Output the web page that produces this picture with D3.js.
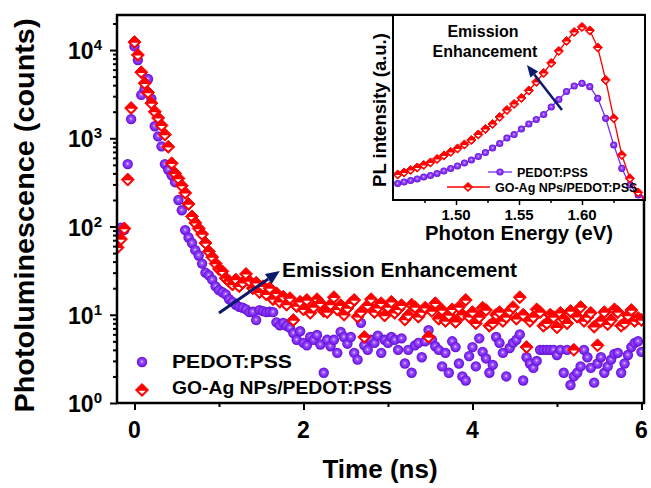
<!DOCTYPE html>
<html><head><meta charset="utf-8">
<script src="https://cdn.jsdelivr.net/npm/d3@7"></script>
<style>
body{margin:0;background:#fff}
svg{display:block}
text{font-family:"Liberation Sans",Arial,sans-serif;font-weight:bold;fill:#000}
</style>
</head><body>
<svg id="c" width="651" height="488"></svg>
<script>
// ---------------- DATA ----------------
const seriesNames = ["PEDOT:PSS", "GO-Ag NPs/PEDOT:PSS"];
const timeStart = -0.2;   // ns, first bin
const timeStep = 0.04;    // ns, bin width
const pedotCounts = [
 88,97,92,510,1650,11000,7700,3100,3600,4700,
 2800,1370,1050,810,510,440,380,318,200,153,
 91,75,65,54,47,38,30,28,25,21,
 19,18,17,15,14,13,12.3,12,11.5,10.7,
 10.8,8.7,11.3,11,10.7,10.8,10.7,8.2,7.6,8.1,
 7.5,7.1,6.2,5.2,6.5,4.8,4.5,5.6,5.2,5.9,
 4.6,2.2,5.2,4.4,5.2,3.7,6.4,5.6,4.7,5.6,
 3.7,3.1,8.1,4.5,4.0,5.2,4.8,5.8,3.7,5.2,
 4.8,5.6,5.2,4.0,5.4,2.8,4.0,2.2,4.5,4.8,
 3.3,5.0,6.7,5.2,4.4,4.0,2.6,3.7,2.2,5.0,
 4.3,2.8,2.0,1.8,3.4,4.3,2.6,5.4,3.8,3.2,
 2.2,2.7,5.6,4.8,3.7,2.0,4.2,4.8,5.2,6.0,
 1.8,3.3,2.8,2.5,3.0,4.0,4.0,4.0,4.0,4.0,
 3.5,4.0,2.2,4.0,1.6,2.0,2.2,2.6,4.0,3.3,
 2.5,1.7,2.8,3.3,2.2,2.6,3.1,3.6,3.7,2.2,
 2.8,3.5,4.3,4.8,5.0,3.8
];
const goAgCounts = [
 58,72,95,340,2200,12300,8800,5600,4200,3300,
 2500,2000,1700,1400,1100,800,520,400,350,290,
 240,180,130,110,95,82,65,52,45,38,
 33,31,26,24,22,25,21,23,29,24,
 20,23,18,21,17,20,15,17.5,14,16,
 13,15.4,8.7,12.5,14,11.5,14.7,10.5,12.2,15,
 13.5,11,10.7,13,15.8,11.5,12.8,10,11.9,13.5,
 14.7,9.5,10.7,5.6,12.8,15,10.7,12,13.5,9.8,
 12.2,14,10.5,11.5,12.8,8.8,9.9,13,12.2,9.5,
 10.7,12,5.6,11,13.5,9,11.3,8.5,9.9,11.5,
 8.3,12.2,10,14.7,9.5,10.7,8,9.4,12,11.3,
 7.5,8.0,10,10.7,8.5,9.4,11,12.2,9,15.8,
 10,4.3,8.5,9.4,11.5,10.7,7.5,8.0,10,9.4,
 7.2,10.5,9,8.0,11,4.0,9.5,12.2,8.5,9.4,
 10.5,7.3,4.5,8.5,10.7,7.8,8.7,11.5,10.7,7.5,
 8.0,9.8,11.3,8.5,9.2,8.7
];
const xTickLabels = [0, 2, 4, 6];
const xMinorTicks = [1, 3, 5];
const yTickExponents = [0, 1, 2, 3, 4];

// inset: PL spectra (photon energy in eV, intensity in a.u.)
const insetEnergy = [
 1.4537,1.4588,1.4640,1.4692,1.4744,1.4797,1.4850,1.4904,1.4958,1.5012,
 1.5067,1.5122,1.5177,1.5233,1.5290,1.5347,1.5404,1.5461,1.5519,1.5578,
 1.5637,1.5696,1.5756,1.5816,1.5877,1.5938,1.6000,1.6062,1.6125,1.6188,
 1.6252,1.6316,1.6380,1.6446,1.6511
];
const insetPedot = [
 16.5,18,19.5,21,23,24.5,26.5,29,31.5,34,
 37,40,43.5,47.5,52,56.5,62,65.5,71,76,
 80.5,85.5,93,100.5,108.5,114,116.7,113.3,101.7,81.7,
 55,31.7,15,5,0.5
];
const insetGoAg = [
 25.5,27.5,30,32.5,35,37.5,41,44.5,48,51.5,
 55.5,60,65.5,71,76,83,90,96,102,109.5,
 118,127,137,149,159,168,173,169.5,152.5,120,
 81.7,45,21.7,7.5,1
];
const insetTickLabels = [1.50, 1.55, 1.60];
const insetMinorTicks = [1.475, 1.525, 1.575, 1.625];

// ---------------- CHART ----------------
const svg = d3.select("#c");
const M = {l:117, r:644, t:15, b:403};
const x = d3.scaleLinear().domain([-0.207, 6.03]).range([M.l, M.r]);
const y = d3.scaleLog().domain([1, 24950]).range([M.b, M.t]);

const defs = svg.append("defs");
const grad = defs.append("radialGradient").attr("id","sph")
  .attr("cx","50%").attr("cy","50%").attr("r","50%").attr("fx","48%").attr("fy","45%");
grad.append("stop").attr("offset","0%").attr("stop-color","#e6d4ff");
grad.append("stop").attr("offset","28%").attr("stop-color","#9a55ff");
grad.append("stop").attr("offset","70%").attr("stop-color","#7f26f0");
grad.append("stop").attr("offset","100%").attr("stop-color","#5e10d0");
defs.append("clipPath").attr("id","mainclip").append("rect")
  .attr("x",M.l).attr("y",M.t).attr("width",M.r-M.l).attr("height",M.b-M.t);

function diamond(g, s){
  g.append("path").attr("d",`M0,${-s}L${s},0L0,${s}L${-s},0Z`)
    .attr("fill","#ff0000").attr("stroke","#ff0000").attr("stroke-width",1);
  g.append("path").attr("d",`M${-0.55*s},${0.1*s}L${0.55*s},${0.1*s}L0,${0.62*s}Z`)
    .attr("fill","#fff");
}

const times = pedotCounts.map((_, i) => +(timeStart + i*timeStep).toFixed(3));
const dataP = times.map((t,i) => ({t, v: pedotCounts[i]}));
const dataG = times.map((t,i) => ({t, v: goAgCounts[i]}));

const plot = svg.append("g").attr("clip-path","url(#mainclip)");
plot.selectAll("circle.p").data(dataP).join("circle").attr("class","p")
  .attr("cx", d=>x(d.t)).attr("cy", d=>y(d.v)).attr("r",5.2).attr("fill","url(#sph)");
plot.selectAll("g.g").data(dataG).join("g").attr("class","g")
  .attr("transform", d=>`translate(${x(d.t)},${y(d.v)})`)
  .each(function(){ diamond(d3.select(this), 6.5); });

// axes
const gxMaj = svg.append("g").attr("transform",`translate(0,${M.b})`)
  .call(d3.axisBottom(x).tickValues(xTickLabels).tickSize(7).tickFormat(""));
const gxMin = svg.append("g").attr("transform",`translate(0,${M.b})`)
  .call(d3.axisBottom(x).tickValues(xMinorTicks).tickSize(4).tickFormat(""));
const yMinor = [];
for (let k=0;k<5;k++) for (let m=2;m<=9;m++){ const v=m*Math.pow(10,k); if (v<24950) yMinor.push(v); }
const gyMaj = svg.append("g").attr("transform",`translate(${M.l},0)`)
  .call(d3.axisLeft(y).tickValues(yTickExponents.map(e=>Math.pow(10,e))).tickSize(7).tickFormat(""));
const gyMin = svg.append("g").attr("transform",`translate(${M.l},0)`)
  .call(d3.axisLeft(y).tickValues(yMinor).tickSize(4).tickFormat(""));
[gxMaj,gxMin,gyMaj,gyMin].forEach(g=>{
  g.select(".domain").remove();
  g.selectAll(".tick line").attr("stroke","#000").attr("stroke-width",2);
});

xTickLabels.forEach(v=>{
  svg.append("text").attr("x",x(v)).attr("y",438).attr("text-anchor","middle")
    .attr("font-size",23).text(v);
});
yTickExponents.forEach(e=>{
  const t = svg.append("text").attr("x",102).attr("y",y(Math.pow(10,e))+9)
    .attr("text-anchor","end").attr("font-size",23);
  t.append("tspan").text("10");
  t.append("tspan").attr("font-size",15).attr("dy",-9).text(e);
});

svg.append("rect").attr("x",M.l).attr("y",M.t).attr("width",M.r-M.l).attr("height",M.b-M.t)
  .attr("fill","none").attr("stroke","#000").attr("stroke-width",2.5);

// titles
svg.append("text").attr("x",380).attr("y",478).attr("text-anchor","middle")
  .attr("font-size",26).text("Time (ns)");
svg.append("text").attr("transform","translate(33.5,215.5) rotate(-90)")
  .attr("text-anchor","middle").attr("font-size",27.5)
  .attr("textLength",394).attr("lengthAdjust","spacingAndGlyphs")
  .text("Photoluminescence (counts)");

// legend
svg.append("circle").attr("cx",142).attr("cy",362).attr("r",5.2).attr("fill","url(#sph)");
diamond(svg.append("g").attr("transform","translate(142,390)"), 6.5);
svg.append("text").attr("x",172).attr("y",368).attr("font-size",19)
  .attr("textLength",120).attr("lengthAdjust","spacingAndGlyphs").text(seriesNames[0]);
svg.append("text").attr("x",172).attr("y",394).attr("font-size",19)
  .attr("textLength",220).attr("lengthAdjust","spacingAndGlyphs").text(seriesNames[1]);

// arrows
function arrow(x1,y1,x2,y2,len,hw,w){
  const dx=x2-x1, dy=y2-y1, L=Math.hypot(dx,dy), ux=dx/L, uy=dy/L;
  const bx=x2-ux*len, by=y2-uy*len;
  svg.append("line").attr("x1",x1).attr("y1",y1).attr("x2",bx).attr("y2",by)
    .attr("stroke","#0b1a6b").attr("stroke-width",w);
  svg.append("path").attr("d",`M${x2},${y2}L${bx-uy*hw},${by+ux*hw}L${bx+uy*hw},${by-ux*hw}Z`)
    .attr("fill","#0b1a6b");
}
arrow(x(1.0), y(10.5), x(1.72), y(31.3), 14, 6, 3);
svg.append("text").attr("x",282).attr("y",277).attr("font-size",20.5)
  .attr("textLength",235).attr("lengthAdjust","spacingAndGlyphs").attr("fill","#111")
  .text("Emission Enhancement");

// ---------------- INSET ----------------
const I = {l:393, r:645, t:15, b:200};
const xi = d3.scaleLinear().domain([1.45,1.65]).range([I.l,I.r]);
const yi = d3.scaleLinear().domain([0,185]).range([I.b,I.t]);
svg.append("rect").attr("x",I.l).attr("y",I.t).attr("width",I.r-I.l).attr("height",I.b-I.t).attr("fill","#fff");
defs.append("clipPath").attr("id","insclip").append("rect")
  .attr("x",I.l).attr("y",I.t).attr("width",I.r-I.l).attr("height",I.b-I.t);
const ins = svg.append("g").attr("clip-path","url(#insclip)");
const dP = insetEnergy.map((e,i)=>({e, v:insetPedot[i]}));
const dG = insetEnergy.map((e,i)=>({e, v:insetGoAg[i]}));
const line = d3.line().x(d=>xi(d.e)).y(d=>yi(d.v));
ins.append("path").datum(dP).attr("d",line).attr("fill","none").attr("stroke","#7b2cf2").attr("stroke-width",1.3);
ins.append("path").datum(dG).attr("d",line).attr("fill","none").attr("stroke","#ff0000").attr("stroke-width",1.3);
ins.selectAll("circle").data(dP).join("circle")
  .attr("cx",d=>xi(d.e)).attr("cy",d=>yi(d.v)).attr("r",3.6).attr("fill","url(#sph)");
ins.selectAll("g.d").data(dG).join("g").attr("class","d")
  .attr("transform",d=>`translate(${xi(d.e)},${yi(d.v)})`)
  .each(function(){ diamond(d3.select(this),4.6); });

const gi1 = svg.append("g").attr("transform",`translate(0,${I.b})`)
  .call(d3.axisBottom(xi).tickValues(insetTickLabels).tickSize(5).tickFormat(""));
const gi2 = svg.append("g").attr("transform",`translate(0,${I.b})`)
  .call(d3.axisBottom(xi).tickValues(insetMinorTicks).tickSize(3).tickFormat(""));
[gi1,gi2].forEach(g=>{ g.select(".domain").remove(); g.selectAll(".tick line").attr("stroke","#000").attr("stroke-width",1.5); });
insetTickLabels.forEach(v=>{
  svg.append("text").attr("x",xi(v)).attr("y",220).attr("text-anchor","middle")
    .attr("font-size",15).text(d3.format(".2f")(v));
});
svg.append("rect").attr("x",I.l).attr("y",I.t).attr("width",I.r-I.l).attr("height",I.b-I.t)
  .attr("fill","none").attr("stroke","#000").attr("stroke-width",2);
svg.append("text").attr("x",519).attr("y",240).attr("text-anchor","middle").attr("font-size",20)
  .attr("textLength",188).attr("lengthAdjust","spacingAndGlyphs").text("Photon Energy (eV)");
svg.append("text").attr("transform","translate(386,110) rotate(-90)").attr("text-anchor","middle")
  .attr("font-size",18.5).text("PL intensity (a.u.)");

// inset legend
svg.append("line").attr("x1",488).attr("x2",512).attr("y1",172).attr("y2",172).attr("stroke","#7b2cf2").attr("stroke-width",1.3);
svg.append("circle").attr("cx",500).attr("cy",172).attr("r",3.6).attr("fill","url(#sph)");
svg.append("line").attr("x1",447).attr("x2",490).attr("y1",187).attr("y2",187).attr("stroke","#ff0000").attr("stroke-width",1.3);
diamond(svg.append("g").attr("transform","translate(468,187)"),4.6);
svg.append("text").attr("x",517).attr("y",177).attr("font-size",12.5).text(seriesNames[0]);
svg.append("text").attr("x",495).attr("y",192).attr("font-size",12.5).text(seriesNames[1]);

// inset annotation
arrow(xi(1.5841), yi(90), xi(1.5563), yi(135), 12, 5, 2.5);
svg.append("text").attr("x",483).attr("y",37).attr("text-anchor","middle").attr("font-size",16).attr("fill","#111").text("Emission");
svg.append("text").attr("x",485).attr("y",57).attr("text-anchor","middle").attr("font-size",16).attr("fill","#111").text("Enhancement");
</script>
</body></html>
